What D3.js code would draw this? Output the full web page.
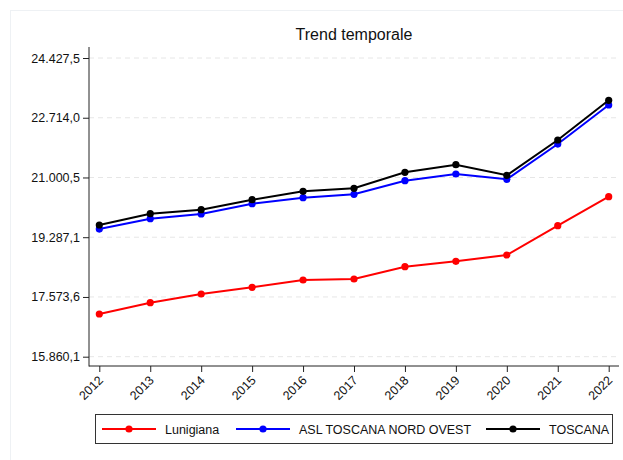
<!DOCTYPE html>
<html>
<head>
<meta charset="utf-8">
<script src="https://cdn.jsdelivr.net/npm/d3@7"></script>
<style>
  body { margin: 0; background: #fff; }
  svg { display: block; font-family: "Liberation Sans", Arial, sans-serif; }
</style>
</head>
<body>
<div id="chart"></div>
<script>
// dati
var anni = [2012, 2013, 2014, 2015, 2016, 2017, 2018, 2019, 2020, 2021, 2022]
var lunigiana = [17085, 17409, 17658, 17850, 18060, 18088, 18441, 18596, 18777, 19617, 20449]
var aslNordOvest = [19522, 19818, 19953, 20248, 20420, 20518, 20908, 21100, 20948, 21960, 23079]
var toscana = [19637, 19961, 20076, 20363, 20604, 20690, 21149, 21367, 21063, 22075, 23214]
var yTicks = [15860.1, 17573.6, 19287.1, 21000.5, 22714.0, 24427.5]
var nomiSerie = ["Lunigiana", "ASL TOSCANA NORD OVEST", "TOSCANA"]
var coloriSerie = ["#ff0000", "#0000ff", "#000000"]

var W = 623, H = 460
var plot = { left: 89, right: 619, top: 47, bottom: 366 }

var svg = d3.select("#chart").append("svg")
  .attr("width", W)
  .attr("height", H)

// cornice esterna (molto chiara)
svg.append("rect")
  .attr("x", 10.5).attr("y", 10.5)
  .attr("width", W).attr("height", H)
  .attr("fill", "none")
  .attr("stroke", "#eef1f4")

var x = d3.scaleLinear()
  .domain([2012, 2022])
  .range([99.3, 608.7])

var y = d3.scaleLinear()
  .domain([15860.1, 24427.5])
  .range([356.7, 58])

var it = d3.formatLocale({ decimal: ",", thousands: ".", grouping: [3], currency: ["€", ""] })
var fmt = it.format(",.1f")

// griglia tratteggiata
svg.append("g")
  .selectAll("line")
  .data(yTicks)
  .enter().append("line")
  .attr("x1", plot.left).attr("x2", plot.right)
  .attr("y1", function(d) { return y(d) })
  .attr("y2", function(d) { return y(d) })
  .attr("stroke", "#e6e6e6")
  .attr("stroke-dasharray", "5,4")

// asse Y
var yAxis = svg.append("g")
  .attr("transform", "translate(" + plot.left + ",0)")
  .call(d3.axisLeft(y).tickValues(yTicks).tickFormat(fmt).tickSize(6).tickPadding(3))
yAxis.select(".domain").remove()
yAxis.append("line")
  .attr("y1", plot.top).attr("y2", plot.bottom + 0.5)
  .attr("stroke", "#222")
yAxis.selectAll(".tick line").attr("stroke", "#222")
yAxis.selectAll("text")
  .attr("fill", "#111")
  .style("font-size", "12.5px")
  .style("font-family", "'Liberation Sans', Arial, sans-serif")

// asse X
var xAxis = svg.append("g")
  .attr("transform", "translate(0," + plot.bottom + ")")
  .call(d3.axisBottom(x).tickValues(anni).tickFormat(d3.format("d")).tickSize(6))
xAxis.select(".domain").remove()
xAxis.append("line")
  .attr("x1", plot.left).attr("x2", plot.right)
  .attr("stroke", "#222")
xAxis.selectAll(".tick line").attr("stroke", "#222")
xAxis.selectAll("text")
  .attr("fill", "#111")
  .attr("y", 0).attr("dy", 0)
  .attr("text-anchor", "end")
  .attr("transform", "translate(4,15) rotate(-45)")
  .style("font-size", "12.5px")
  .style("font-family", "'Liberation Sans', Arial, sans-serif")

// titolo
svg.append("text")
  .attr("x", (plot.left + plot.right) / 2)
  .attr("y", 40)
  .attr("text-anchor", "middle")
  .style("font-size", "16px")
  .attr("fill", "#111")
  .text("Trend temporale")

// serie
var serie = [lunigiana, aslNordOvest, toscana]
var linea = d3.line()
  .x(function(d, i) { return x(anni[i]) })
  .y(function(d) { return y(d) })

serie.forEach(function(valori, s) {
  svg.append("path")
    .datum(valori)
    .attr("d", linea)
    .attr("fill", "none")
    .attr("stroke", coloriSerie[s])
    .attr("stroke-width", 2)
  svg.append("g")
    .selectAll("circle")
    .data(valori)
    .enter().append("circle")
    .attr("cx", function(d, i) { return x(anni[i]) })
    .attr("cy", function(d) { return y(d) })
    .attr("r", 3.6)
    .attr("fill", coloriSerie[s])
})

// legenda
var leg = svg.append("g")
leg.append("rect")
  .attr("x", 95.5).attr("y", 414.5)
  .attr("width", 517).attr("height", 29)
  .attr("fill", "#fff")
  .attr("stroke", "#333")

var legX = [102, 236, 486]
nomiSerie.forEach(function(nome, s) {
  var g = leg.append("g").attr("transform", "translate(" + legX[s] + ",429)")
  g.append("line")
    .attr("x1", 0).attr("x2", 54)
    .attr("stroke", coloriSerie[s])
    .attr("stroke-width", 2)
  g.append("circle")
    .attr("cx", 27).attr("r", 3.6)
    .attr("fill", coloriSerie[s])
  g.append("text")
    .attr("x", 63).attr("y", 4.5)
    .style("font-size", "12.5px")
    .attr("fill", "#111")
    .text(nome)
})
</script>
</body>
</html>
